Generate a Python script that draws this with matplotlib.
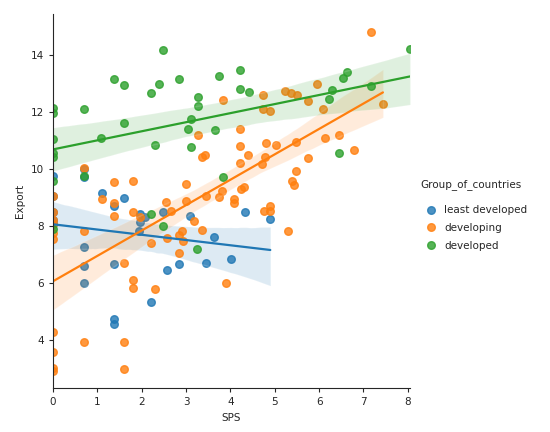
import matplotlib
matplotlib.use("Agg")
import matplotlib.pyplot as plt
import seaborn as sns
import pandas as pd

groups = ["least developed", "developing", "developed"]

# some least developed points at x=0 sit under the orange ones
least_sps = [0, 0, 0, 0, 0, 0.69, 0.69, 1.1, 1.6, 1.38, 1.96, 2.07, 1.96, 2.47, 1.94,
             0.69, 0.69, 0.69, 1.38, 1.38, 1.38, 2.2, 2.56, 2.83, 3.1, 3.64, 3.44,
             4.02, 4.34, 4.9]
least_export = [9.75, 9.05, 8.5, 8.2, 8.05, 9.7, 10.0, 9.15, 8.98, 8.7, 8.42, 8.32, 8.14,
                8.5, 7.83, 7.24, 6.57, 6.0, 6.67, 4.74, 4.56, 5.33, 6.46, 6.67, 8.35,
                7.6, 6.7, 6.84, 8.5, 8.25]

developing_sps = [0, 0, 0, 0, 0, 0, 0, 0, 0, 0,
                  0.69, 0.69, 0.69, 1.1, 1.38, 1.38, 1.38, 1.6, 1.6, 1.6,
                  1.8, 1.8, 1.8, 1.8, 1.96, 2.2, 2.3, 2.55, 2.65, 2.56,
                  2.83, 2.83, 2.9, 2.94, 2.99, 2.99, 3.17, 3.35, 3.26, 3.35,
                  3.42, 3.44, 3.75, 3.82, 3.84, 3.9, 4.09, 4.09, 4.22, 4.22,
                  4.22, 4.25, 4.31, 4.4, 4.72, 4.79, 4.74, 4.74, 4.76, 4.9,
                  4.9, 4.8, 5.03, 4.9, 5.24, 5.37, 5.5, 5.3, 5.39, 5.44,
                  5.48, 5.48, 5.75, 5.75, 5.96, 6.09, 6.13, 6.45, 6.79, 7.17,
                  7.44]
developing_export = [9.05, 8.5, 8.2, 8.05, 7.75, 7.55, 4.25, 3.55, 3.0, 2.9,
                     10.03, 7.8, 3.9, 8.95, 9.54, 8.8, 8.36, 6.7, 3.9, 2.95,
                     9.58, 8.47, 6.1, 5.82, 8.3, 7.4, 5.79, 8.82, 8.53, 7.58,
                     7.68, 7.05, 7.82, 7.47, 9.47, 8.88, 8.18, 7.86, 11.19, 10.42,
                     10.5, 9.05, 9.02, 9.23, 12.42, 6.0, 8.95, 8.8, 11.4, 10.8,
                     10.2, 9.3, 9.37, 10.49, 10.17, 10.42, 12.6, 12.1, 8.53, 8.7,
                     8.53, 10.9, 10.84, 12.04, 12.75, 12.67, 12.6, 7.82, 9.58, 9.44,
                     10.95, 9.93, 12.38, 10.39, 12.98, 12.1, 11.08, 11.2, 10.67, 14.8,
                     12.28]

developed_sps = [0, 0, 0, 0, 0, 0, 0, 0.69, 0.69, 1.09, 1.38, 1.6, 1.6, 2.2, 2.2,
                 2.3, 2.4, 2.48, 2.47, 2.84, 3.05, 3.12, 3.12, 3.24, 3.26, 3.26,
                 3.66, 3.75, 3.84, 4.22, 4.22, 4.43, 6.22, 6.29, 6.45, 6.54, 6.63,
                 7.17, 8.05]
developed_export = [12.14, 11.96, 11.05, 10.55, 10.4, 9.58, 7.9, 12.1, 9.75, 11.1, 13.16,
                    12.95, 11.6, 12.65, 8.42, 10.85, 13.0, 14.18, 8.0, 13.15, 11.4,
                    11.75, 10.77, 7.2, 12.54, 12.2, 11.37, 13.26, 9.72, 13.47, 12.8,
                    12.7, 12.46, 12.77, 10.56, 13.2, 13.4, 12.9, 14.2]

df = pd.concat([
    pd.DataFrame({"SPS": least_sps, "Export": least_export, "Group_of_countries": groups[0]}),
    pd.DataFrame({"SPS": developing_sps, "Export": developing_export, "Group_of_countries": groups[1]}),
    pd.DataFrame({"SPS": developed_sps, "Export": developed_export, "Group_of_countries": groups[2]}),
])

colors = ["#1f77b4", "#ff7f0e", "#2ca02c"]

sns.set_style("ticks")
plt.rcParams["font.family"] = ["DejaVu Sans"]

fig = plt.figure(figsize=(5.5, 4.32), dpi=100)
ax = fig.add_axes([0.0964, 0.102, 0.649, 0.866])

for g, c in zip(groups, colors):
    sub = df[df["Group_of_countries"] == g]
    sns.regplot(data=sub, x="SPS", y="Export", ax=ax, color=c, label=g,
                scatter_kws={"s": 30}, line_kws={"lw": 1.6}, seed=0, truncate=True)

ax.set_xlim(0, 8.05)
ax.set_ylim(2.3, 15.45)
ax.set_xticks(range(0, 9))
ax.set_yticks([4, 6, 8, 10, 12, 14])
ax.tick_params(labelsize=7.5, length=3, width=0.8)
ax.set_xlabel("SPS", fontsize=7.5)
ax.set_ylabel("Export", fontsize=7.5)
sns.despine(ax=ax)

# legend entries and its title placed apart, as in the source figure
handles = [plt.Line2D([], [], marker="o", ls="", color=c, alpha=0.8, markersize=5.5) for c in colors]
fig.legend(handles, groups, loc="center left", bbox_to_anchor=(0.758, 0.472),
           frameon=False, fontsize=7.5, handletextpad=0.2, borderaxespad=0,
           labelspacing=0.75)
fig.text(0.765, 1 - 185 / 432, "Group_of_countries", fontsize=7.5, va="center")

fig.savefig("out.png", dpi=100)
